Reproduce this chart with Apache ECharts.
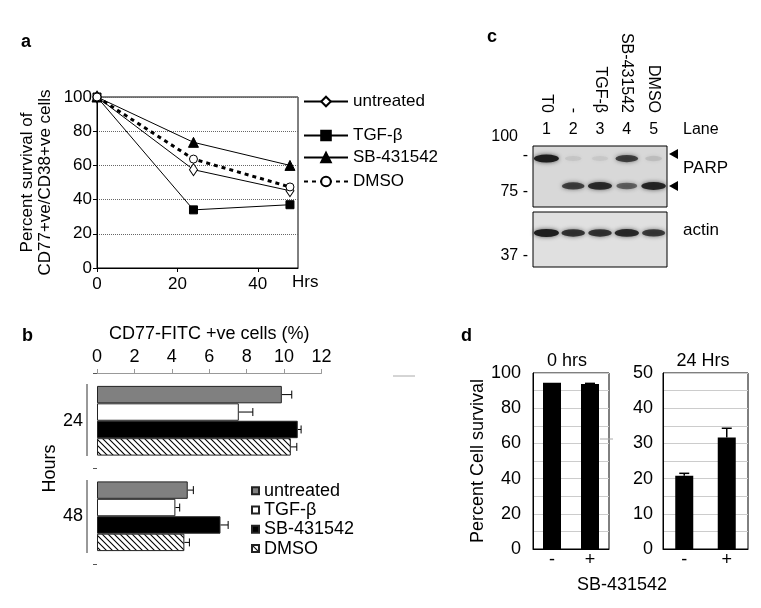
<!DOCTYPE html>
<html><head><meta charset="utf-8">
<script src="https://cdn.jsdelivr.net/npm/echarts@6/dist/echarts.min.js"></script>
<style>html,body{margin:0;padding:0;background:#fff}#c{width:761px;height:608px}</style>
</head><body><div id="c"></div>
<script>
// ---- Panel a: survival time course ----
const hoursA = [0, 24, 48];
const seriesNamesA = ['untreated', 'TGF-β', 'SB-431542', 'DMSO'];
const untreatedA = [100, 57.5, 45.2];
const tgfA = [100, 34, 37];
const sbA = [100, 73.5, 60];
const dmsoA = [100, 63.7, 47.4];

// ---- Panel b: CD77-FITC +ve cells (%) ----
const hoursB = ['24', '48'];
const untreatedB = [9.88, 4.85];
const untreatedBErr = [0.53, 0.30];
const tgfB = [7.58, 4.19];
const tgfBErr = [0.75, 0.23];
const sbB = [10.73, 6.6];
const sbBErr = [0.18, 0.41];
const dmsoB = [10.36, 4.67];
const dmsoBErr = [0.32, 0.27];

// ---- Panel c: western blot ----
const lanes = ['1', '2', '3', '4', '5'];
const treatments = ['T0', '-', 'TGF-β', 'SB-431542', 'DMSO'];
const parpFull = [1.0, 0.07, 0.06, 0.75, 0.1];
const parpCleaved = [0, 0.75, 0.9, 0.55, 0.95];
const actinBand = [1.0, 0.85, 0.85, 0.92, 0.8];
const parpFullPos = 0.795, parpCleavedPos = 0.345, actinPos = 0.62;
const mwParp = [{v: 0.85, t: '-'}, {v: 0.25, t: '75 -'}];
const mwActin = [{v: 0.2, t: '37 -'}];

// ---- Panel d: percent cell survival ----
const sbCats = ['-', '+'];
const surv0 = [94.5, 93.7];
const surv0Err = [0, 0.4];
const surv24 = [20.8, 31.7];
const surv24Err = [0.7, 2.6];

const FONT = 'Liberation Sans, Arial, sans-serif';
const chart = echarts.init(document.getElementById('c'));

// hatch pattern for DMSO bars
const pat = document.createElement('canvas');
pat.width = 6; pat.height = 6;
(function(){
  const g = pat.getContext('2d');
  g.fillStyle = '#fff'; g.fillRect(0,0,6,6);
  g.strokeStyle = '#000'; g.lineWidth = 1.1;
  g.beginPath(); g.moveTo(0,0); g.lineTo(6,6); g.moveTo(-3,3); g.lineTo(3,9); g.moveTo(3,-3); g.lineTo(9,3); g.stroke();
})();

const lineStyles = [
  {sym: 'diamond', size: [8, 12], fill: '#fff', type: 'solid', w: 1},
  {sym: 'rect', size: 8, fill: '#000', type: 'solid', w: 1},
  {sym: 'triangle', size: 10, fill: '#000', type: 'solid', w: 1},
  {sym: 'circle', size: 8, fill: '#fff', type: [4, 4], w: 3}
];
const dataA = [untreatedA, tgfA, sbA, dmsoA];
const legendTopsA = [93, 127, 149, 173];

const barB = [untreatedB, tgfB, sbB, dmsoB];
const errB = [untreatedBErr, tgfBErr, sbBErr, dmsoBErr];
const barColorsB = ['#808080', '#fff', '#000', {image: pat, repeat: 'repeat'}];

function bandData(arr, pos) {
  return arr.map((I, i) => ({
    value: [i, pos],
    symbolSize: [16 + 9 * I, 5 + 3 * I],
    itemStyle: {opacity: I}
  }));
}

const series = [];
// panel a lines
dataA.forEach((d, i) => {
  const s = lineStyles[i];
  series.push({
    type: 'line', name: seriesNamesA[i], xAxisIndex: 0, yAxisIndex: 0,
    data: hoursA.map((h, j) => [h, d[j]]),
    symbol: s.sym, symbolSize: s.size, showAllSymbol: true,
    lineStyle: {color: '#000', width: s.w, type: s.type},
    itemStyle: {color: s.fill, borderColor: '#000', borderWidth: 1},
    z: 5 + i
  });
});
// panel b bars
barB.forEach((d, i) => {
  series.push({
    type: 'bar', name: 'b:' + seriesNamesA[i], xAxisIndex: 1, yAxisIndex: 1,
    data: d, barGap: 0, barCategoryGap: '27%',
    itemStyle: {color: barColorsB[i], borderColor: '#222', borderWidth: 1}
  });
});
// panel b error bars
series.push({
  type: 'custom', xAxisIndex: 1, yAxisIndex: 1, silent: true,
  data: barB.flatMap((d, s) => d.map((v, c) => [v, c, errB[s][c], s])),
  renderItem: function(params, api) {
    const v = api.value(0), c = api.value(1), e = api.value(2), s = api.value(3);
    const band = api.size([0, 1])[1];
    const bw = band * 0.73 / 4;
    const yc = api.coord([0, c])[1] + (s - 1.5) * bw;
    const x1 = api.coord([v, c])[0], x2 = api.coord([v + e, c])[0];
    return {type: 'group', children: [
      {type: 'line', shape: {x1: x1, y1: yc, x2: x2, y2: yc}, style: {stroke: '#000', lineWidth: 1}},
      {type: 'line', shape: {x1: x2, y1: yc - 4, x2: x2, y2: yc + 4}, style: {stroke: '#000', lineWidth: 1}}
    ]};
  }
});
// panel c blot bands
[[parpFull, parpFullPos, 2, 2], [parpCleaved, parpCleavedPos, 2, 2], [actinBand, actinPos, 3, 3]].forEach(([arr, pos, xi, yi]) => {
  series.push({
    type: 'scatter', xAxisIndex: xi, yAxisIndex: yi, symbol: 'circle', silent: true,
    data: bandData(arr, pos),
    itemStyle: {color: '#1e1e1e', shadowBlur: 4, shadowColor: 'rgba(30,30,30,0.7)'}
  });
});
// panel d bars
[[surv0, surv0Err, 5, 4], [surv24, surv24Err, 6, 5]].forEach(([vals, errs, xi, yi]) => {
  series.push({
    type: 'bar', xAxisIndex: xi, yAxisIndex: yi, data: vals, barWidth: 18,
    itemStyle: {color: '#000'}
  });
  series.push({
    type: 'custom', xAxisIndex: xi, yAxisIndex: yi, silent: true,
    data: vals.map((v, c) => [c, v, errs[c]]),
    renderItem: function(params, api) {
      const c = api.value(0), v = api.value(1), e = api.value(2);
      if (!e) return null;
      const p1 = api.coord([c, v]), p2 = api.coord([c, v + e]);
      return {type: 'group', children: [
        {type: 'line', shape: {x1: p1[0], y1: p1[1], x2: p2[0], y2: p2[1]}, style: {stroke: '#000', lineWidth: 1.5}},
        {type: 'line', shape: {x1: p2[0] - 5, y1: p2[1], x2: p2[0] + 5, y2: p2[1]}, style: {stroke: '#000', lineWidth: 1.5}}
      ]};
    }
  });
});

const txt = {color: '#000', fontFamily: FONT};

const option = {
  animation: false,
  backgroundColor: '#fff',
  textStyle: {fontFamily: FONT, color: '#000'},
  legend: seriesNamesA.map((n, i) => ({
    data: [n], left: 303, top: legendTopsA[i], padding: 0,
    itemWidth: 44, itemHeight: 12, selectedMode: false,
    textStyle: Object.assign({fontSize: 17}, txt)
  })).concat([{
    data: seriesNamesA.map(n => 'b:' + n), orient: 'vertical', left: 251, top: 481, padding: 0,
    itemWidth: 7, itemHeight: 7, itemGap: 0, icon: 'rect', selectedMode: false,
    formatter: n => n.slice(2),
    textStyle: Object.assign({fontSize: 18, lineHeight: 19.3}, txt)
  }]),
  grid: [
    {left: 97, top: 97, width: 201, height: 171, show: true, borderColor: '#000', borderWidth: 1},
    {left: 97, top: 373, width: 224.5, height: 191},
    {left: 533, top: 146, width: 134, height: 61, show: true, backgroundColor: '#d8d8d8', borderColor: '#000', borderWidth: 1},
    {left: 533, top: 212, width: 134, height: 55, show: true, backgroundColor: '#e0e0e0', borderColor: '#000', borderWidth: 1},
    {left: 533, top: 373, width: 76, height: 176, show: true, borderColor: '#000', borderWidth: 1},
    {left: 663, top: 373, width: 85, height: 176, show: true, borderColor: '#000', borderWidth: 1}
  ],
  xAxis: [
    {gridIndex: 0, type: 'value', min: 0, max: 50, interval: 20,
      axisLine: {lineStyle: {color: '#000'}}, axisTick: {length: 4, lineStyle: {color: '#000'}},
      axisLabel: Object.assign({fontSize: 17, margin: 8, showMaxLabel: false}, txt), splitLine: {show: false},
      name: 'Hrs', nameLocation: 'end', nameGap: -6,
      nameTextStyle: Object.assign({fontSize: 17, align: 'left', verticalAlign: 'top', padding: [6, 0, 0, 0]}, txt)},
    {gridIndex: 1, type: 'value', position: 'top', min: 0, max: 12, interval: 2,
      axisLine: {show: true, lineStyle: {color: '#999'}}, axisTick: {show: true, length: 4, lineStyle: {color: '#999'}},
      axisLabel: Object.assign({fontSize: 18, margin: 7}, txt), splitLine: {show: false},
      name: 'CD77-FITC +ve cells (%)', nameLocation: 'middle', nameGap: 30,
      nameTextStyle: Object.assign({fontSize: 18}, txt)},
    {gridIndex: 2, type: 'category', data: lanes, position: 'top',
      axisLine: {show: false}, axisTick: {show: false},
      axisLabel: Object.assign({fontSize: 16, margin: 8}, txt)},
    {gridIndex: 3, type: 'category', data: lanes, show: false},
    {gridIndex: 2, type: 'category', data: treatments, position: 'top', offset: 25,
      axisLine: {show: false}, axisTick: {show: false},
      axisLabel: Object.assign({fontSize: 16, margin: 8, rotate: 90}, txt)},
    {gridIndex: 4, type: 'category', data: sbCats,
      axisLine: {lineStyle: {color: '#000'}}, axisTick: {show: false},
      axisLabel: Object.assign({fontSize: 18, margin: 2}, txt)},
    {gridIndex: 5, type: 'category', data: sbCats,
      axisLine: {lineStyle: {color: '#000'}}, axisTick: {show: false},
      axisLabel: Object.assign({fontSize: 18, margin: 2}, txt)}
  ],
  yAxis: [
    {gridIndex: 0, type: 'value', min: 0, max: 100, interval: 20,
      axisLine: {show: true, lineStyle: {color: '#000'}}, axisTick: {show: true, length: 4, lineStyle: {color: '#000'}},
      axisLabel: Object.assign({fontSize: 17, margin: 5}, txt),
      splitLine: {show: true, lineStyle: {color: '#666', type: 'dotted', width: 1}},
      name: 'Percent survival of\nCD77+ve/CD38+ve cells', nameLocation: 'middle', nameRotate: 90, nameGap: 43,
      nameTextStyle: Object.assign({fontSize: 17, lineHeight: 18}, txt)},
    {gridIndex: 1, type: 'category', data: hoursB, inverse: true,
      axisLine: {show: false}, axisTick: {show: true, length: 4, lineStyle: {color: '#555'}},
      axisLabel: Object.assign({fontSize: 18, margin: 14}, txt),
      name: 'Hours', nameLocation: 'middle', nameRotate: 90, nameGap: 38,
      nameTextStyle: Object.assign({fontSize: 18}, txt)},
    {gridIndex: 2, type: 'value', min: 0, max: 1,
      axisLine: {show: false}, axisTick: {show: false}, splitLine: {show: false},
      axisLabel: Object.assign({fontSize: 16, margin: 5, customValues: mwParp.map(m => m.v),
        formatter: v => (mwParp.find(m => Math.abs(m.v - v) < 1e-6) || {t: ''}).t}, txt),
      name: '100', nameLocation: 'end', nameGap: 9,
      nameTextStyle: Object.assign({fontSize: 16, align: 'right', verticalAlign: 'middle', padding: [0, 15, 0, 0]}, txt)},
    {gridIndex: 3, type: 'value', min: 0, max: 1,
      axisLine: {show: false}, axisTick: {show: false}, splitLine: {show: false},
      axisLabel: Object.assign({fontSize: 16, margin: 5, customValues: mwActin.map(m => m.v),
        formatter: v => (mwActin.find(m => Math.abs(m.v - v) < 1e-6) || {t: ''}).t}, txt)},
    {gridIndex: 4, type: 'value', min: 0, max: 100, interval: 10,
      axisLine: {show: true, lineStyle: {color: '#000'}}, axisTick: {show: false},
      axisLabel: Object.assign({fontSize: 18, margin: 12, formatter: v => (v % 20 === 0 ? String(v) : '')}, txt),
      splitLine: {show: true, lineStyle: {color: '#ccc', width: 1}},
      name: 'Percent Cell survival', nameLocation: 'middle', nameRotate: 90, nameGap: 46,
      nameTextStyle: Object.assign({fontSize: 18}, txt)},
    {gridIndex: 5, type: 'value', min: 0, max: 50, interval: 5,
      axisLine: {show: true, lineStyle: {color: '#000'}}, axisTick: {show: false},
      axisLabel: Object.assign({fontSize: 18, margin: 10, formatter: v => (v % 10 === 0 ? String(v) : '')}, txt),
      splitLine: {show: true, lineStyle: {color: '#ccc', width: 1}}}
  ],
  graphic: [
    {type: 'text', left: 21, top: 33, style: {text: 'a', font: 'bold 18px ' + FONT, fill: '#000'}},
    {type: 'text', left: 22, top: 327, style: {text: 'b', font: 'bold 18px ' + FONT, fill: '#000'}},
    {type: 'text', left: 487, top: 28, style: {text: 'c', font: 'bold 18px ' + FONT, fill: '#000'}},
    {type: 'text', left: 461, top: 327, style: {text: 'd', font: 'bold 18px ' + FONT, fill: '#000'}},
    // b group brackets
    {type: 'line', shape: {x1: 87, y1: 384, x2: 87, y2: 456}, style: {stroke: '#333', lineWidth: 1}},
    {type: 'line', shape: {x1: 87, y1: 480, x2: 87, y2: 553}, style: {stroke: '#333', lineWidth: 1}},
    {type: 'line', shape: {x1: 393, y1: 376, x2: 415, y2: 376}, style: {stroke: '#aaa', lineWidth: 1}},
    {type: 'line', shape: {x1: 600, y1: 439, x2: 613, y2: 439}, style: {stroke: '#aaa', lineWidth: 1}},
    // c annotations
    {type: 'text', x: 683, y: 130, style: {text: 'Lane', font: '16px ' + FONT, fill: '#000', verticalAlign: 'middle'}},
    {type: 'text', x: 683, y: 168, style: {text: 'PARP', font: '17px ' + FONT, fill: '#000', verticalAlign: 'middle'}},
    {type: 'text', x: 683, y: 230, style: {text: 'actin', font: '17px ' + FONT, fill: '#000', verticalAlign: 'middle'}},
    {type: 'polygon', shape: {points: [[669, 154], [678, 149], [678, 159]]}, style: {fill: '#000'}},
    {type: 'polygon', shape: {points: [[669, 186], [678, 181], [678, 191]]}, style: {fill: '#000'}},
    // d titles
    {type: 'text', x: 567, y: 361, style: {text: '0 hrs', font: '18px ' + FONT, fill: '#000', align: 'center', verticalAlign: 'middle'}},
    {type: 'text', x: 703, y: 361, style: {text: '24 Hrs', font: '18px ' + FONT, fill: '#000', align: 'center', verticalAlign: 'middle'}},
    {type: 'text', x: 622, y: 585, style: {text: 'SB-431542', font: '18px ' + FONT, fill: '#000', align: 'center', verticalAlign: 'middle'}}
  ],
  series: series
};
chart.setOption(option);
</script></body></html>
